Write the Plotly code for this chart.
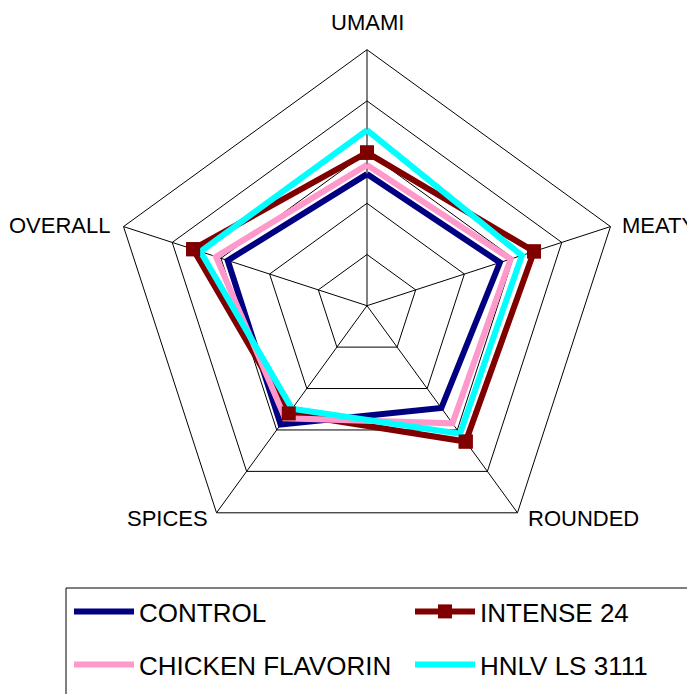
import plotly.graph_objects as go

categories = ["UMAMI", "MEATY", "ROUNDED", "SPICES", "OVERALL"]
series_names = ["CONTROL", "INTENSE 24", "CHICKEN FLAVORIN", "HNLV LS 3111"]
control = [2.57, 2.73, 2.47, 2.87, 2.86]
intense_24 = [2.99, 3.43, 3.28, 2.60, 3.57]
chicken_flavorin = [2.75, 2.95, 2.84, 2.72, 3.10]
hnlv_ls_3111 = [3.43, 3.18, 3.09, 2.49, 3.42]
radial_ticks = [0, 1, 2, 3, 4, 5]

W, H = 695, 694
FONT = "Liberation Sans, Arial, sans-serif"
OFF = 8  # page body margin offset


def closed(vals):
    return list(vals) + [vals[0]]


theta = closed(categories)

fig = go.Figure()
fig.add_trace(go.Scatterpolar(r=closed(control), theta=theta, mode="lines",
                              name=series_names[0], line=dict(color="#000080", width=6),
                              legend="legend"))
fig.add_trace(go.Scatterpolar(r=closed(intense_24), theta=theta, mode="lines+markers",
                              name=series_names[1], line=dict(color="#800000", width=6),
                              marker=dict(symbol="square", size=14, color="#800000"),
                              legend="legend2"))
fig.add_trace(go.Scatterpolar(r=closed(chicken_flavorin), theta=theta, mode="lines",
                              name=series_names[2], line=dict(color="#FF99CC", width=6),
                              legend="legend3"))
fig.add_trace(go.Scatterpolar(r=closed(hnlv_ls_3111), theta=theta, mode="lines",
                              name=series_names[3], line=dict(color="#00FFFF", width=6),
                              legend="legend4"))
# markers of INTENSE 24 drawn on top of all lines
fig.add_trace(go.Scatterpolar(r=intense_24, theta=categories, mode="markers",
                              showlegend=False, hoverinfo="skip",
                              marker=dict(symbol="square", size=14, color="#800000")))

cx, cy, R = 367 - OFF, 305.7 - OFF, 256
legend_common = dict(orientation="h", xanchor="left", yanchor="top",
                     font=dict(family=FONT, size=26, color="black"),
                     bgcolor="rgba(0,0,0,0)", borderwidth=0, itemwidth=60,
                     itemclick=False, itemdoubleclick=False)

# category label placement (page px): x, y, xanchor
label_pos = [(367, 22, "center"), (620, 226, "left"), (526, 518, "left"),
             (210, 518, "right"), (113, 226, "right")]
annotations = []
for name, (lx, ly, anc) in zip(categories, label_pos):
    annotations.append(dict(text=name, xref="paper", yref="paper",
                            x=(lx - OFF) / W, y=1 - (ly - OFF) / H,
                            xanchor=anc, yanchor="middle", showarrow=False,
                            font=dict(family=FONT, size=22, color="black")))

col_x = [61, 402]
row_y = [580, 633]

fig.update_layout(
    width=W, height=H,
    margin=dict(l=0, r=0, t=0, b=0, pad=0, autoexpand=False),
    paper_bgcolor="white",
    plot_bgcolor="white",
    font=dict(family=FONT, color="black"),
    polar=dict(
        domain=dict(x=[(cx - R) / W, (cx + R) / W],
                    y=[(H - cy - R) / H, (H - cy + R) / H]),
        bgcolor="white",
        gridshape="linear",
        radialaxis=dict(range=[0, 5], tickvals=radial_ticks, showticklabels=False,
                        ticks="", showline=False, gridcolor="black", gridwidth=1),
        angularaxis=dict(categoryarray=categories, categoryorder="array",
                         rotation=90, direction="clockwise",
                         showline=True, linecolor="black", linewidth=1,
                         gridcolor="black", gridwidth=1, ticks="",
                         showticklabels=False),
    ),
    legend=dict(x=col_x[0] / W, y=1 - row_y[0] / H, **legend_common),
    legend2=dict(x=col_x[1] / W, y=1 - row_y[0] / H, **legend_common),
    legend3=dict(x=col_x[0] / W, y=1 - row_y[1] / H, **legend_common),
    legend4=dict(x=col_x[1] / W, y=1 - row_y[1] / H, **legend_common),
    annotations=annotations,
    shapes=[dict(type="rect", xref="paper", yref="paper",
                 x0=(66 - OFF) / W, x1=1.05, y0=-0.05, y1=1 - (588 - OFF) / H,
                 line=dict(color="black", width=1), fillcolor="rgba(0,0,0,0)")],
    showlegend=True,
)

fig.write_html("out.html")
